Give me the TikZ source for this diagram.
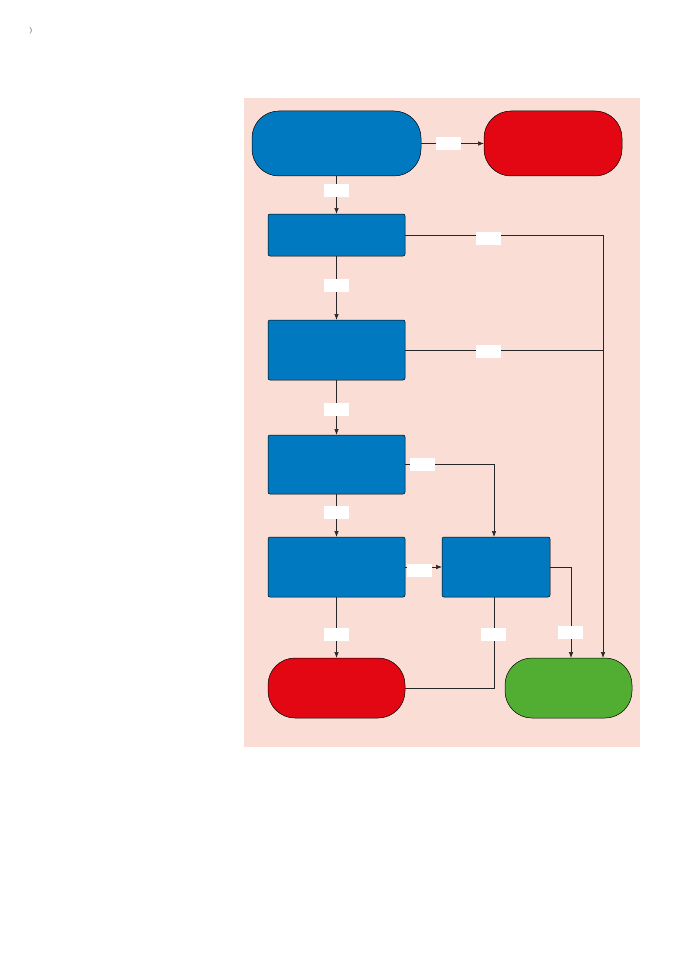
\documentclass[tikz,border=0pt]{standalone}
\usetikzlibrary{positioning, arrows.meta}
\definecolor{flowblue}{HTML}{0079C1}
\definecolor{flowred}{HTML}{E30613}
\definecolor{flowgreen}{HTML}{52AE32}
\definecolor{flowbg}{HTML}{FADDD4}

\begin{document}
\begin{tikzpicture}[x=1pt, y=-1pt, >={Latex[length=6pt,width=4.5pt]},
  every node/.style={inner sep=0pt, outer sep=0pt},
  box/.style={draw, line width=0.5pt, fill=flowblue, rounded corners=2pt, minimum width=137pt, minimum height=60pt},
  term/.style={draw, line width=0.5pt, rounded corners=27pt, minimum height=60pt},
  lbl/.style={fill=white, minimum width=25pt, minimum height=13pt},
  conn/.style={line width=0.6pt, draw=black!85}]
\useasboundingbox (0,0) rectangle (678,960);
\fill[flowbg] (244,98) rectangle (640,747);
\node[text=black!60, font=\scriptsize\bfseries] (mark) at (31,31) {)};

% boxes
\node[term, fill=flowblue, minimum width=169pt, minimum height=65pt] (entry) at (336.5,143.5) {};
\node[term, fill=flowred, minimum width=138pt, minimum height=65pt] (reject) at (553,143.5) {};
\node[box, minimum height=42pt] (stepA) at (336.5,235) {};
\node[box] (stepB) at (336.5,350) {};
\node[box, minimum height=59pt] (stepC) at (336.5,464.5) {};
\node[box] (stepD) at (336.5,567) {};
\node[box, minimum width=108pt] (stepE) at (496,567) {};
\node[term, fill=flowred, minimum width=137pt] (fail) at (336.5,688) {};
\node[term, fill=flowgreen, minimum width=127pt] (pass) at (568.5,688) {};
\coordinate (passR) at (603,658);
\coordinate (passL) at (571,658);
\coordinate (eTop) at (494,537);
\coordinate (eBot) at (494,597);

% connectors
\draw[conn,->] (entry) -- (reject);
\draw[conn,->] (entry) -- (stepA);
\draw[conn,->] (stepA) -- (stepB);
\draw[conn,->] (stepB) -- (stepC);
\draw[conn,->] (stepC) -- (stepD);
\draw[conn,->] (stepD) -- (fail);
\draw[conn,->] (stepD) -- (stepE);
\draw[conn,->] (stepA.east) -| (passR);
\draw[conn] (stepB.east) -- (stepB.east -| passR);
\draw[conn,->] (stepC.east) -| (eTop);
\draw[conn,->] (stepE.east) -| (passL);
\draw[conn] (eBot) |- (fail.east);

% labels
\node[lbl] (l1) at (448.5,144) {};
\node[lbl] (l2) at (336.5,190.5) {};
\node[lbl] (l3) at (488.5,238.5) {};
\node[lbl] (l4) at (336.5,285.5) {};
\node[lbl] (l5) at (488.5,351.5) {};
\node[lbl] (l6) at (336.5,409.5) {};
\node[lbl] (l7) at (422.5,464.5) {};
\node[lbl] (l8) at (336.5,512.5) {};
\node[lbl] (l9) at (419.5,570) {};
\node[lbl] (l10) at (336.5,634) {};
\node[lbl] (l11) at (493.5,634) {};
\node[lbl] (l12) at (570.5,632) {};
\end{tikzpicture}
\end{document}
